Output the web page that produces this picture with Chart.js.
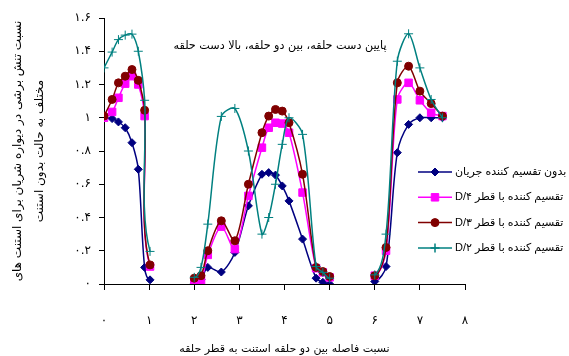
<!DOCTYPE html>
<html>
<head>
<meta charset="utf-8">
<script src="https://cdn.jsdelivr.net/npm/chart.js@4/dist/chart.umd.min.js"></script>
<style>
  html, body { margin: 0; padding: 0; background: #fff; }
</style>
</head>
<body>
<canvas id="chart" width="569" height="356"></canvas>
<script>
// ratio of distance between two stent rings to ring diameter
const distance = [
  0, 0.18, 0.32, 0.47, 0.62, 0.76, 0.9, 1.02,
  2.0, 2.15, 2.3, 2.6, 2.9, 3.2, 3.5, 3.65, 3.8, 3.95, 4.1, 4.4, 4.7, 4.85, 5.0,
  6.0, 6.25, 6.5, 6.75, 7.0, 7.25, 7.5
];

const noDivider = [
  1.0, 0.995, 0.975, 0.94, 0.85, 0.69, 0.10, 0.025,
  0.005, 0.026, 0.10, 0.072, 0.19, 0.47, 0.66, 0.67, 0.655, 0.59, 0.50, 0.27, 0.035, 0.01, 0.0,
  0.015, 0.105, 0.79, 0.96, 1.0, 1.0, 1.0
];
const dividerD4 = [
  1.0, 1.035, 1.12, 1.205, 1.25, 1.2, 1.01, 0.105,
  0.02, 0.02, 0.175, 0.345, 0.21, 0.53, 0.82, 0.94, 0.97, 0.965, 0.91, 0.55, 0.095, 0.07, 0.04,
  0.05, 0.2, 1.11, 1.21, 1.105, 1.03, 1.01
];
const dividerD3 = [
  1.01, 1.11, 1.21, 1.25, 1.29, 1.225, 1.045, 0.115,
  0.035, 0.05, 0.2, 0.38, 0.26, 0.6, 0.91, 1.01, 1.05, 1.04, 0.97, 0.66, 0.1, 0.075, 0.045,
  0.05, 0.22, 1.21, 1.31, 1.16, 1.085, 1.01
];
const dividerD2 = [
  1.30, 1.395, 1.47, 1.497, 1.503, 1.40, 1.105, 0.196,
  0.04, 0.10, 0.36, 1.008, 1.056, 0.80, 0.30, 0.40, 0.60, 0.84, 1.0, 0.90, 0.105, 0.07, 0.035,
  0.055, 0.30, 1.34, 1.505, 1.30, 1.11, 1.0
];

const seriesNames = [
  "بدون تقسیم کننده جریان",
  "تقسیم کننده با قطر ۴/D",
  "تقسیم کننده با قطر ۳/D",
  "تقسیم کننده با قطر ۲/D"
];

const xTickLabels = ["۰", "۱", "۲", "۳", "۴", "۵", "۶", "۷", "۸"];
const yTickLabels = ["۰", "۰.۲", "۰.۴", "۰.۶", "۰.۸", "۱", "۱.۲", "۱.۴", "۱.۶"];

const xTitle = "نسبت فاصله بین دو حلقه استنت به قطر حلقه";
const yTitle = ["نسبت تنش برشی در دیواره شریان برای استنت های", "مختلف به حالت بدون استنت"];
const noteText = "پایین دست حلقه، بین دو حلقه، بالا دست حلقه";

const FA = '"DejaVu Sans", sans-serif';
const LEGEND_FONT = '11px "Liberation Sans", "DejaVu Sans", sans-serif';

const toPoints = (values) => distance.map((x, i) => ({ x, y: values[i] }));

// break the line where the measured regions are far apart
const gapSegment = {
  borderColor: (c) => (c.p1.parsed.x - c.p0.parsed.x > 0.6 ? "rgba(0,0,0,0)" : undefined),
};

const makeSet = (label, values, color, style, radius, order) => ({
  label,
  data: toPoints(values),
  borderColor: color,
  backgroundColor: color,
  pointBackgroundColor: color,
  pointBorderColor: color,
  borderWidth: 1.5,
  pointStyle: style,
  pointRadius: radius,
  pointBorderWidth: 1,
  tension: 0.3,
  segment: gapSegment,
  order,
});

/* legend and the note in the plot, drawn over the chart */
const overlay = {
  id: "overlay",
  afterDraw(chart) {
    const { ctx, scales } = chart;
    ctx.save();
    ctx.direction = "rtl";
    ctx.fillStyle = "#000";
    ctx.textBaseline = "middle";
    ctx.font = "11.2px " + FA;
    ctx.textAlign = "center";
    ctx.fillText(noteText, scales.x.getPixelForValue(3.9), scales.y.getPixelForValue(1.43));

    chart.data.datasets.forEach((ds, i) => {
      const cy = 172 + i * 25.3;
      ctx.strokeStyle = ds.borderColor;
      ctx.lineWidth = ds.borderWidth;
      ctx.beginPath();
      ctx.moveTo(418, cy);
      ctx.lineTo(452, cy);
      ctx.stroke();
      ctx.fillStyle = ds.pointBackgroundColor;
      ctx.lineWidth = ds.pointStyle === "cross" ? 1.5 : 1;
      Chart.helpers.drawPoint(ctx, { pointStyle: ds.pointStyle, radius: ds.pointRadius, rotation: 0, borderWidth: 1 }, 435, cy);
      ctx.fillStyle = "#000";
      ctx.font = LEGEND_FONT;
      ctx.textAlign = "left";
      ctx.fillText(ds.label, 455, cy);
    });
    ctx.restore();
  },
};

new Chart(document.getElementById("chart"), {
  type: "line",
  data: {
    datasets: [
      makeSet(seriesNames[0], noDivider, "#000080", "rectRot", 4, 4),
      makeSet(seriesNames[1], dividerD4, "#FF00FF", "rect", 5.3, 3),
      makeSet(seriesNames[2], dividerD3, "#800000", "circle", 4, 2),
      makeSet(seriesNames[3], dividerD2, "#008080", "cross", 4.5, 1),
    ],
  },
  options: {
    responsive: false,
    animation: false,
    layout: { padding: { top: 18, right: 104, bottom: 0, left: 0 } },
    plugins: {
      legend: { display: false },
      tooltip: { enabled: false },
    },
    scales: {
      x: {
        type: "linear",
        min: 0,
        max: 8,
        afterFit: (scale) => { scale.height = 72; },
        ticks: {
          stepSize: 1,
          padding: 24,
          color: "#000",
          font: { family: FA, size: 12 },
          callback: (v) => xTickLabels[v],
        },
        grid: { drawOnChartArea: false, tickLength: 6, color: "#000" },
        border: { color: "#000" },
        title: {
          display: true,
          text: xTitle,
          color: "#000",
          font: { family: FA, size: 11 },
          padding: { top: 0, bottom: 0 },
        },
      },
      y: {
        min: 0,
        max: 1.6,
        afterFit: (scale) => { scale.width = 104; },
        ticks: {
          stepSize: 0.2,
          padding: 8,
          color: "#000",
          font: { family: FA, size: 12 },
          callback: (v) => yTickLabels[Math.round(v * 5)],
        },
        grid: { drawOnChartArea: false, tickLength: 5, color: "#000" },
        border: { color: "#000" },
        title: {
          display: true,
          text: yTitle,
          color: "#000",
          font: { family: FA, size: 12, lineHeight: 1.8 },
          padding: { top: 7, bottom: 0 },
        },
      },
    },
  },
  plugins: [overlay],
});
</script>
</body>
</html>
